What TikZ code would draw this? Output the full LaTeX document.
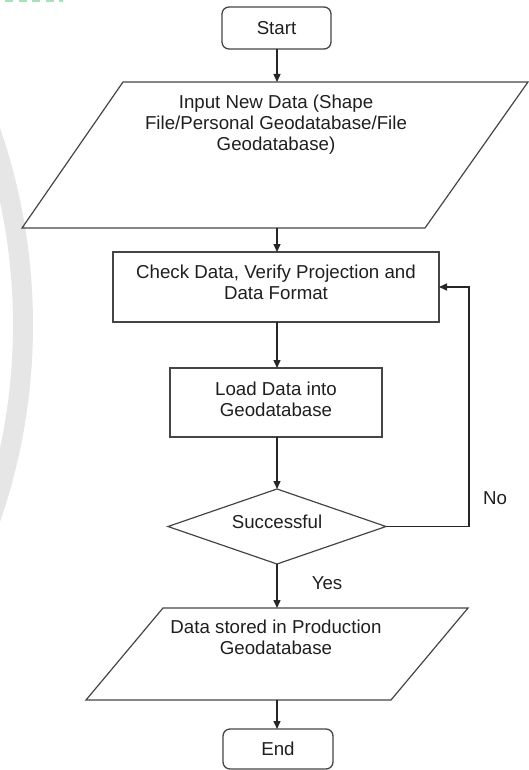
\documentclass[tikz,border=0pt]{standalone}
\usepackage{fontspec}
\setmainfont{Liberation Sans}
\usetikzlibrary{arrows.meta}
\definecolor{edge}{HTML}{454545}
\definecolor{wm}{HTML}{E6E6E6}
\definecolor{dashgreen}{RGB}{165,228,185}
\begin{document}
\begin{tikzpicture}[x=1pt,y=-1pt,
  every node/.style={font=\fontsize{18.7}{21}\selectfont, text=black!88, inner sep=0pt, outer sep=0pt},
  term/.style={draw=edge, line width=1.3pt, rounded corners=7pt, minimum width=109pt, minimum height=42pt},
  procbox/.style={draw=edge, line width=1.2pt},
  ghost/.style={minimum width=0pt},
  shapeline/.style={draw=edge, line width=1.2pt, line join=miter},
  arr/.style={draw=black!85, line width=1.4pt, -{Triangle[length=8pt,width=7pt]}},
  lab/.style={align=center}]
\useasboundingbox (0,0) rectangle (529,770);
\begin{scope}
  \clip (0,0) rectangle (529,770);
  \draw[wm, line width=20pt] (-569,325) circle[radius=592];
\end{scope}
\draw[dashgreen, line width=1.6pt, dash pattern=on 8pt off 5.5pt] (5,0.8) -- (63,0.8);

\node[term] (start) at (276.5,28) {Start};

\node[ghost, minimum height=146pt] (in) at (277,155) {};
\draw[shapeline] ([xshift=-154pt]in.north) -- ([xshift=251pt]in.north) -- ([xshift=148pt]in.south) -- ([xshift=-255pt]in.south) -- cycle;
\node[lab] (intext) at (276,125) {Input New Data (Shape\\File/Personal Geodatabase/File\\Geodatabase)};

\node[procbox, minimum width=326pt, minimum height=70pt] (check) at (276,287) {};
\node[lab] (checktext) at (276,282) {Check Data, Verify Projection and\\Data Format};

\node[procbox, minimum width=212pt, minimum height=69pt] (load) at (276,402.5) {};
\node[lab] (loadtext) at (276,399) {Load Data into\\Geodatabase};

\node[ghost, minimum width=218pt, minimum height=75pt] (dec) at (277,526.5) {};
\draw[shapeline] (dec.north) -- (dec.east) -- (dec.south) -- (dec.west) -- cycle;
\node (dectext) at (277,522) {Successful};

\node[ghost, minimum height=92pt] (out) at (277,654) {};
\draw[shapeline] ([xshift=-114pt]out.north) -- ([xshift=191pt]out.north) -- ([xshift=114pt]out.south) -- ([xshift=-191pt]out.south) -- cycle;
\node[lab] (outtext) at (276,637.5) {Data stored in Production\\Geodatabase};

\node[term, minimum width=110pt, minimum height=40pt] (end) at (278,749) {End};

\coordinate (fb) at (469,0);
\draw[arr] (start.south -| in.north) -- (in.north);
\draw[arr] (in.south) -- (in.south |- check.north);
\draw[arr] (in.south |- check.south) -- (in.south |- load.north);
\draw[arr] (dec.north |- load.south) -- (dec.north);
\draw[arr] (dec.south) -- (dec.south |- out.north);
\draw[arr] (out.south) -- (out.south |- end.north);
\draw[arr] (dec.east) -- (dec.east -| fb) |- (check.east);

\node (no) at (495,498) {No};
\node (yes) at (327,583) {Yes};
\end{tikzpicture}
\end{document}
